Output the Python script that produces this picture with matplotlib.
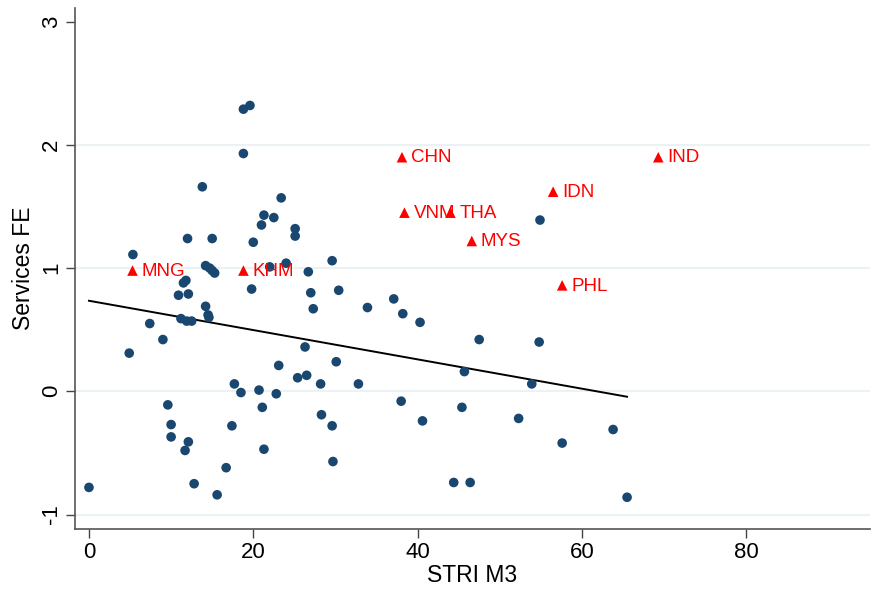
import matplotlib
matplotlib.use("Agg")
import matplotlib.pyplot as plt

plt.rcParams['font.family'] = ['Liberation Sans', 'DejaVu Sans']

# other countries (navy dots)
stri_other = [0.0, 4.9, 5.35, 7.4, 9.0, 9.6, 10.0, 10.0, 10.9, 11.5,
              11.8, 11.2, 11.9, 12.5, 12.1, 12.0, 11.7, 12.1, 12.8, 13.8,
              14.2, 14.5, 14.6, 14.2, 14.7, 15.0, 15.3, 15.0, 15.6, 16.7,
              17.4, 17.7, 18.5, 18.8, 19.6, 18.8, 19.8, 20.0, 20.7, 21.1,
              21.3, 21.0, 21.3, 22.0, 22.5, 22.8, 23.1, 23.4, 24.0, 25.1,
              25.1, 25.4, 26.3, 26.5, 26.7, 27.0, 27.3, 28.2, 28.3, 29.6,
              29.6, 29.7, 30.1, 30.4, 32.8, 33.9, 37.1, 38.0, 38.2, 40.3,
              40.6, 44.4, 45.4, 45.7, 46.4, 47.5, 52.3, 53.9, 54.8, 54.9,
              57.6, 63.8, 65.5]
fe_other = [-0.78, 0.31, 1.11, 0.55, 0.42, -0.11, -0.27, -0.37, 0.78, 0.88,
            0.90, 0.59, 0.57, 0.57, 0.79, 1.24, -0.48, -0.41, -0.75, 1.66,
            0.69, 0.62, 0.60, 1.02, 1.00, 0.98, 0.96, 1.24, -0.84, -0.62,
            -0.28, 0.06, -0.01, 2.29, 2.32, 1.93, 0.83, 1.21, 0.01, -0.13,
            -0.47, 1.35, 1.43, 1.01, 1.41, -0.02, 0.21, 1.57, 1.04, 1.32,
            1.26, 0.11, 0.36, 0.13, 0.97, 0.80, 0.67, 0.06, -0.19, 1.06,
            -0.28, -0.57, 0.24, 0.82, 0.06, 0.68, 0.75, -0.08, 0.63, 0.56,
            -0.24, -0.74, -0.13, 0.16, -0.74, 0.42, -0.22, 0.06, 0.40, 1.39,
            -0.42, -0.31, -0.86]

# highlighted Asian countries (red triangles)
asia_codes = ['MNG', 'KHM', 'CHN', 'VNM', 'THA', 'MYS', 'IDN', 'PHL', 'IND']
stri_asia = [5.3, 18.8, 38.1, 38.4, 44.0, 46.6, 56.5, 57.6, 69.3]
fe_asia = [0.98, 0.98, 1.90, 1.45, 1.45, 1.22, 1.62, 0.86, 1.90]

# linear fit line endpoints
fit_x = [0.0, 65.5]
fit_y = [0.735, -0.044]

fig = plt.figure(figsize=(8.72, 5.89), dpi=100)
ax = fig.add_axes([0.086, 0.1024, 0.9117, 0.884])

for g in [-1, 0, 1, 2]:
    ax.axhline(g, color='#eaf2f3', lw=1.5, zorder=0)

ax.scatter(stri_other, fe_other, s=48, color='#1a476f', edgecolors='none', zorder=3)
ax.scatter(stri_asia, fe_asia, s=58, marker='^', color='red', edgecolors='none', zorder=3)
for code, x, y in zip(asia_codes, stri_asia, fe_asia):
    ax.annotate(code, (x, y), xytext=(6.5, -0.5), textcoords='offset points',
                ha='left', va='center', color='red', fontsize=13.5, zorder=4)

ax.plot(fit_x, fit_y, color='black', lw=1.4, zorder=2)

ax.set_xlim(-1.7, 95.07)
ax.set_ylim(-1.115, 3.111)
ax.set_xticks([0, 20, 40, 60, 80])
ax.set_yticks([-1, 0, 1, 2, 3])
ax.set_yticklabels(['-1', '0', '1', '2', '3'], rotation=90, va='center')
ax.tick_params(axis='both', labelsize=16, length=6.5, width=1, color='#444444')
ax.tick_params(axis='y', pad=3)
ax.tick_params(axis='x', pad=3)

for side in ['top', 'right']:
    ax.spines[side].set_visible(False)
for side in ['left', 'bottom']:
    ax.spines[side].set_color('#555555')
    ax.spines[side].set_linewidth(1.2)

ax.set_xlabel('STRI M3', fontsize=16.5, labelpad=1)
ax.set_ylabel('Services FE', fontsize=16.5, labelpad=4)

fig.savefig('out.png', dpi=100)
